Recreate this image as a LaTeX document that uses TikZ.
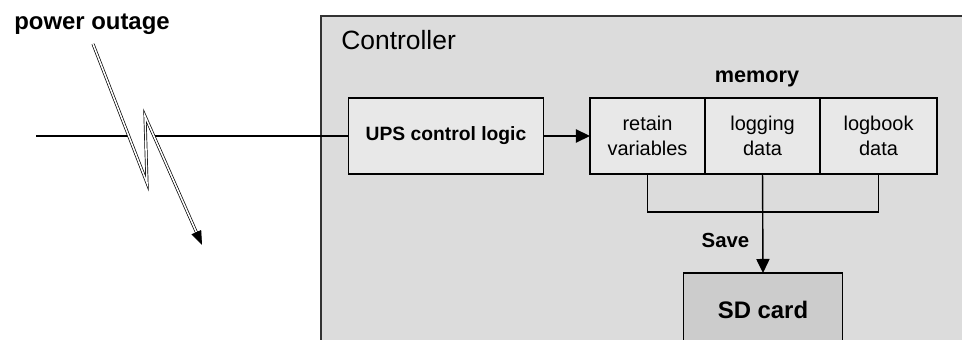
\documentclass[tikz,border=0pt]{standalone}
\usepackage{fontspec}
\setmainfont{Liberation Sans}
\usetikzlibrary{arrows.meta,positioning}
\definecolor{ctrlgray}{RGB}{220,220,220}
\definecolor{boxgray}{RGB}{232,232,232}
\definecolor{sdgray}{RGB}{204,204,204}
\definecolor{edgegray}{RGB}{51,51,51}

\begin{document}
\begin{tikzpicture}[x=0.025cm,y=-0.025cm,
  box/.style={draw,line width=1pt,fill=boxgray,inner sep=0pt,outer sep=0pt,align=center},
  cell/.style={box,minimum width=2.875cm,minimum height=1.9cm,font=\fontsize{14.2}{17.8}\selectfont},
  arr/.style={-{Triangle[length=0.35cm,width=0.33cm]},line width=1pt},
  wire/.style={line width=1pt},
  bolt/.style={line width=0.5pt,double=white,double distance=1.1pt,-{Triangle[length=0.35cm,width=0.26cm]}}]
  \useasboundingbox (0,0) rectangle (962,340);
  \clip (0,0) rectangle (962,340);
  % Controller
  \node[draw=edgegray,line width=1.4pt,fill=ctrlgray,anchor=north west,minimum width=16.5cm,minimum height=8.5cm,inner sep=0pt] (ctrl) at (320,15) {};
  \node[anchor=base west,inner sep=0pt,font=\fontsize{18.8}{22}\selectfont] (ctrltitle) at (341,50) {Controller};
  % UPS logic
  \node[box,minimum width=4.875cm,minimum height=1.9cm,font=\bfseries\fontsize{13.7}{16}\selectfont] (ups) at (446,136) {UPS control logic};
  % Memory
  \node[anchor=base,font=\bfseries\fontsize{15.4}{18}\selectfont] (memlabel) at (757,83) {memory};
  \node[cell] (retain) at (647.5,136) {retain\\variables};
  \node[cell,right=0pt of retain] (logging) {logging\\data};
  \node[cell,right=0pt of logging,minimum width=2.925cm] (logbook) {logbook\\data};
  \draw[arr] (ups) -- (retain);
  % Save to SD card
  \node[box,fill=sdgray,minimum width=3.975cm,minimum height=1.85cm,font=\bfseries\fontsize{17}{20}\selectfont] (sd) at (763,310) {SD card};
  \draw[wire] (retain.south) -- ++(0,38) -| (logbook.south);
  \draw[arr] (logging.south) -- (sd.north);
  \node[font=\bfseries\fontsize{14.5}{17}\selectfont] (save) at (725.5,240) {Save};
  % Power outage
  \node[anchor=base,font=\bfseries\fontsize{17}{20}\selectfont] (outage) at (92,30) {power outage};
  \coordinate (src) at (36,136);
  \coordinate (brk1) at (129,136);
  \coordinate (brk2) at (154,136);
  \draw[wire] (src) -- (brk1);
  \draw[wire] (brk2) -- (ups.west);
  \coordinate (b0) at (93,44);
  \coordinate (b1) at (147,183);
  \coordinate (b2) at (145,116);
  \coordinate (b3) at (202,245);
  \draw[bolt] (b0) -- (b1) -- (b2) -- (b3);
\end{tikzpicture}
\end{document}
